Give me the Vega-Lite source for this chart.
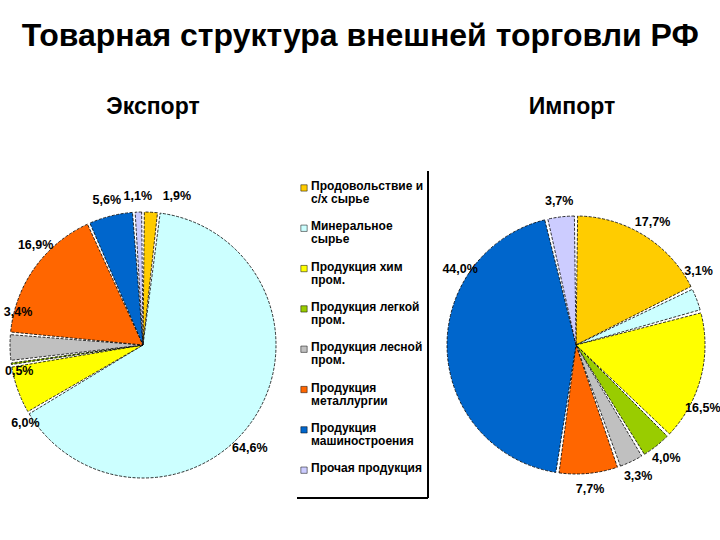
{
  "$schema": "https://vega.github.io/schema/vega-lite/v6.json",
  "padding": {"top": 20, "left": 0, "right": 0, "bottom": 0},
  "background": "white",
  "bounds": "flush",
  "spacing": 11,
  "config": {
    "view": {"stroke": null},
    "font": "Liberation Sans",
    "title": {"font": "Liberation Sans", "color": "black"},
    "text": {"fontSize": 12.5, "fontWeight": "bold", "color": "black"}
  },
  "title": {
    "text": "Товарная структура внешней торговли РФ",
    "fontSize": 32,
    "fontWeight": "bold",
    "anchor": "middle",
    "offset": 43
  },
  "datasets": {
    "export": [
      {"name": "Продовольствие и с/х сырье", "order": 1, "value": 1.9, "label": "1,9%"},
      {"name": "Минеральное сырье", "order": 2, "value": 64.6, "label": "64,6%"},
      {"name": "Продукция хим пром.", "order": 3, "value": 6.0, "label": "6,0%"},
      {"name": "Продукция легкой пром.", "order": 4, "value": 0.5, "label": "0,5%"},
      {"name": "Продукция лесной пром.", "order": 5, "value": 3.4, "label": "3,4%"},
      {"name": "Продукция металлургии", "order": 6, "value": 16.9, "label": "16,9%"},
      {"name": "Продукция машиностроения", "order": 7, "value": 5.6, "label": "5,6%"},
      {"name": "Прочая продукция", "order": 8, "value": 1.1, "label": "1,1%"}
    ],
    "import": [
      {"name": "Продовольствие и с/х сырье", "order": 1, "value": 17.7, "label": "17,7%"},
      {"name": "Минеральное сырье", "order": 2, "value": 3.1, "label": "3,1%"},
      {"name": "Продукция хим пром.", "order": 3, "value": 16.5, "label": "16,5%"},
      {"name": "Продукция легкой пром.", "order": 4, "value": 4.0, "label": "4,0%"},
      {"name": "Продукция лесной пром.", "order": 5, "value": 3.3, "label": "3,3%"},
      {"name": "Продукция металлургии", "order": 6, "value": 7.7, "label": "7,7%"},
      {"name": "Продукция машиностроения", "order": 7, "value": 44.0, "label": "44,0%"},
      {"name": "Прочая продукция", "order": 8, "value": 3.7, "label": "3,7%"}
    ],
    "legend": [
      {"name": "Продовольствие и с/х сырье", "idx": 0, "text": "Продовольствие и\nс/х сырье"},
      {"name": "Минеральное сырье", "idx": 1, "text": "Минеральное\nсырье"},
      {"name": "Продукция хим пром.", "idx": 2, "text": "Продукция хим\nпром."},
      {"name": "Продукция легкой пром.", "idx": 3, "text": "Продукция легкой\nпром."},
      {"name": "Продукция лесной пром.", "idx": 4, "text": "Продукция лесной\nпром."},
      {"name": "Продукция металлургии", "idx": 5, "text": "Продукция\nметаллургии"},
      {"name": "Продукция машиностроения", "idx": 6, "text": "Продукция\nмашиностроения"},
      {"name": "Прочая продукция", "idx": 7, "text": "Прочая продукция"}
    ]
  },
  "hconcat": [
    {
      "width": 286,
      "height": 348,
      "title": {"text": "Экспорт", "fontSize": 23, "fontWeight": "bold", "offset": 52, "dx": 10},
      "data": {"name": "export"},
      "encoding": {
        "theta": {"field": "value", "type": "quantitative", "stack": true},
        "order": {"field": "order", "type": "quantitative"},
        "color": {
          "field": "name", "type": "nominal", "legend": null,
          "scale": {
            "domain": ["Продовольствие и с/х сырье", "Минеральное сырье", "Продукция хим пром.", "Продукция легкой пром.", "Продукция лесной пром.", "Продукция металлургии", "Продукция машиностроения", "Прочая продукция"],
            "range": ["#FFCC00", "#CCFFFF", "#FFFF00", "#99CC00", "#C0C0C0", "#FF6600", "#0066CC", "#CCCCFF"]
          }
        }
      },
      "layer": [
        {"mark": {"type": "arc", "outerRadius": 133, "padAngle": 0.02, "stroke": "black", "strokeWidth": 0.8, "strokeDash": [3, 1.5]}},
        {
          "mark": {"type": "text", "radius": 149, "clip": true},
          "encoding": {
            "detail": {"field": "name"}, "color": {"value": "black"},
            "text": {"condition": {"test": "datum.order == 7 || datum.order == 8", "field": "label"}, "value": ""}
          }
        },
        {
          "mark": {"type": "text", "radius": 149, "dx": 25, "clip": true},
          "encoding": {
            "detail": {"field": "name"}, "color": {"value": "black"},
            "text": {"condition": {"test": "datum.order == 1", "field": "label"}, "value": ""}
          }
        },
        {
          "mark": {"type": "text", "radius": 149, "dx": -18, "dy": 22, "clip": true},
          "encoding": {
            "detail": {"field": "name"}, "color": {"value": "black"},
            "text": {"condition": {"test": "datum.order == 2", "field": "label"}, "value": ""}
          }
        },
        {
          "mark": {"type": "text", "radius": 149, "dx": 14, "dy": -14, "clip": true},
          "encoding": {
            "detail": {"field": "name"}, "color": {"value": "black"},
            "text": {"condition": {"test": "datum.order == 6", "field": "label"}, "value": ""}
          }
        },
        {
          "mark": {"type": "text", "radius": 125, "dy": -35, "clip": true},
          "encoding": {
            "detail": {"field": "name"}, "color": {"value": "black"},
            "text": {"condition": {"test": "datum.order == 5", "field": "label"}, "value": ""}
          }
        },
        {
          "mark": {"type": "text", "radius": 125, "dy": 8, "clip": true},
          "encoding": {
            "detail": {"field": "name"}, "color": {"value": "black"},
            "text": {"condition": {"test": "datum.order == 4", "field": "label"}, "value": ""}
          }
        },
        {
          "mark": {"type": "text", "radius": 125, "dy": 36, "clip": true},
          "encoding": {
            "detail": {"field": "name"}, "color": {"value": "black"},
            "text": {"condition": {"test": "datum.order == 3", "field": "label"}, "value": ""}
          }
        }
      ]
    },
    {
      "width": 131,
      "height": 327,
      "data": {"name": "legend"},
      "layer": [
        {
          "mark": {"type": "point", "shape": "square", "filled": true, "size": 40, "stroke": "black", "strokeWidth": 0.5, "opacity": 1},
          "encoding": {
            "x": {"datum": 7, "type": "quantitative", "scale": {"domain": [0, 131], "nice": false, "zero": false}, "axis": null},
            "y": {"field": "idx", "type": "quantitative", "scale": {"domain": [-0.42, 7.69], "reverse": true, "nice": false, "zero": false}, "axis": null},
            "color": {
              "field": "name", "type": "nominal", "legend": null,
              "scale": {
                "domain": ["Продовольствие и с/х сырье", "Минеральное сырье", "Продукция хим пром.", "Продукция легкой пром.", "Продукция лесной пром.", "Продукция металлургии", "Продукция машиностроения", "Прочая продукция"],
                "range": ["#FFCC00", "#CCFFFF", "#FFFF00", "#99CC00", "#C0C0C0", "#FF6600", "#0066CC", "#CCCCFF"]
              }
            }
          }
        },
        {
          "mark": {"type": "text", "align": "left", "baseline": "top", "dy": -7, "lineBreak": "\n", "fontSize": 12, "fontWeight": "bold", "lineHeight": 13, "color": "black"},
          "encoding": {
            "x": {"datum": 14, "type": "quantitative"},
            "y": {"field": "idx", "type": "quantitative"},
            "text": {"field": "text"}
          }
        },
        {
          "mark": {"type": "rule", "color": "black", "strokeWidth": 1},
          "encoding": {
            "x": {"datum": 131, "type": "quantitative"},
            "y": {"datum": -0.42, "type": "quantitative"},
            "y2": {"datum": 7.69}
          }
        },
        {
          "mark": {"type": "rule", "color": "black", "strokeWidth": 1},
          "encoding": {
            "x": {"datum": 0, "type": "quantitative"},
            "x2": {"datum": 131},
            "y": {"datum": 7.69, "type": "quantitative"}
          }
        }
      ]
    },
    {
      "width": 274,
      "height": 348,
      "title": {"text": "Импорт", "fontSize": 23, "fontWeight": "bold", "offset": 52, "dx": -4},
      "data": {"name": "import"},
      "encoding": {
        "theta": {"field": "value", "type": "quantitative", "stack": true},
        "order": {"field": "order", "type": "quantitative"},
        "color": {
          "field": "name", "type": "nominal", "legend": null,
          "scale": {
            "domain": ["Продовольствие и с/х сырье", "Минеральное сырье", "Продукция хим пром.", "Продукция легкой пром.", "Продукция лесной пром.", "Продукция металлургии", "Продукция машиностроения", "Прочая продукция"],
            "range": ["#FFCC00", "#CCFFFF", "#FFFF00", "#99CC00", "#C0C0C0", "#FF6600", "#0066CC", "#CCCCFF"]
          }
        }
      },
      "layer": [
        {"mark": {"type": "arc", "outerRadius": 129, "padAngle": 0.025, "stroke": "black", "strokeWidth": 0.8, "strokeDash": [3, 1.5]}},
        {
          "mark": {"type": "text", "radius": 145},
          "encoding": {
            "detail": {"field": "name"}, "color": {"value": "black"},
            "text": {"condition": {"test": "datum.order == 1 || datum.order == 4 || datum.order == 5 || datum.order == 6 || datum.order == 8", "field": "label"}, "value": ""}
          }
        },
        {
          "mark": {"type": "text", "radius": 131, "dy": -28},
          "encoding": {
            "detail": {"field": "name"}, "color": {"value": "black"},
            "text": {"condition": {"test": "datum.order == 2", "field": "label"}, "value": ""}
          }
        },
        {
          "mark": {"type": "text", "radius": 131, "dy": 30},
          "encoding": {
            "detail": {"field": "name"}, "color": {"value": "black"},
            "text": {"condition": {"test": "datum.order == 3", "field": "label"}, "value": ""}
          }
        },
        {
          "mark": {"type": "text", "radius": 116, "dy": -81, "clip": true},
          "encoding": {
            "detail": {"field": "name"}, "color": {"value": "black"},
            "text": {"condition": {"test": "datum.order == 7", "field": "label"}, "value": ""}
          }
        }
      ]
    }
  ]
}
